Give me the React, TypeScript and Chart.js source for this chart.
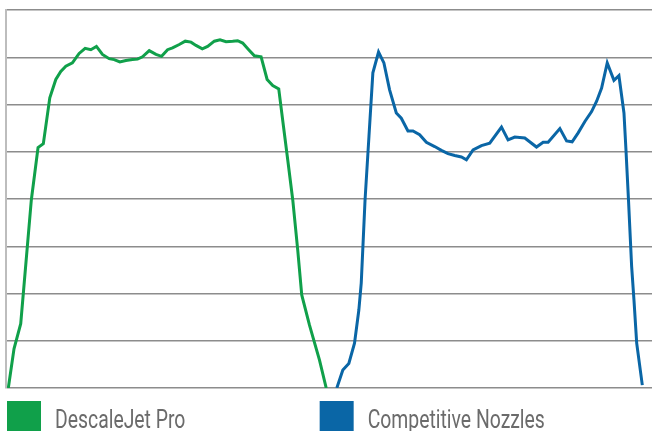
import React, { useEffect, useRef } from "react";
import { Chart, registerables } from "chart.js";

Chart.register(...registerables);

// Horizontal position (0-100) and response value (0-80)
const descaleX = [0.36, 1.24, 2.28, 3.92, 4.96, 5.78, 6.78, 7.71, 8.48, 9.26, 10.28, 11.32, 12.25, 13.13, 14.0, 14.93, 15.97, 16.74, 17.63, 18.56, 19.58, 20.36, 21.13, 22.17, 23.21, 24.08, 25.01, 25.78, 26.82, 27.75, 28.64, 29.41, 30.39, 31.21, 32.25, 33.13, 34.06, 35.09, 35.86, 36.64, 37.57, 38.45, 39.49, 40.42, 41.29, 42.22, 42.95, 43.61, 44.39, 45.16, 45.78, 46.98, 48.53, 49.57];
const descaleY = [0, 8.3, 13.6, 39.8, 50.9, 51.7, 61.4, 65.3, 67.0, 68.1, 68.8, 70.8, 71.9, 71.6, 72.3, 70.6, 69.7, 69.5, 69.0, 69.3, 69.5, 69.6, 70.1, 71.4, 70.6, 70.2, 71.6, 72.0, 72.7, 73.4, 73.2, 72.5, 71.8, 72.3, 73.4, 73.7, 73.3, 73.4, 73.5, 73.0, 71.6, 70.3, 70.1, 65.3, 64.0, 63.3, 55.4, 48.3, 39.8, 29.2, 19.7, 13.3, 5.9, 0];

const competitorX = [51.21, 52.14, 53.07, 53.95, 54.62, 54.99, 55.58, 56.79, 57.67, 58.5, 59.38, 60.42, 61.19, 62.22, 63.0, 64.03, 65.07, 66.36, 67.4, 68.42, 69.46, 70.5, 71.27, 72.3, 73.6, 74.88, 76.7, 77.72, 78.76, 80.31, 82.12, 83.15, 83.92, 85.74, 86.78, 87.64, 88.57, 89.61, 90.65, 91.43, 92.2, 93.07, 94.11, 94.88, 95.66, 95.97, 96.36, 96.85, 97.21, 97.63, 98.5];
const competitorY = [0, 3.8, 5.2, 9.5, 16.5, 22.2, 39.8, 66.7, 71.1, 68.8, 63.1, 58.2, 57.1, 54.4, 54.4, 53.6, 52.0, 51.1, 50.3, 49.6, 49.2, 48.9, 48.3, 50.4, 51.3, 51.8, 55.2, 52.5, 53.1, 52.9, 51.0, 52.0, 52.0, 54.9, 52.3, 52.1, 54.0, 56.4, 58.5, 60.7, 63.5, 68.8, 65.1, 66.1, 58.2, 50.4, 39.8, 25.7, 18.6, 9.5, 0.6];

const seriesLabels = ["DescaleJet Pro", "Competitive Nozzles"];
const seriesColors = ["#10a04a", "#0a66a6"];

const toPoints = (xs: number[], ys: number[]) => xs.map((x, i) => ({ x, y: ys[i] }));

const bottomLegend = {
  id: "bottomLegend",
  afterDraw(chart: any) {
    const { ctx, chartArea } = chart;
    const starts = [chartArea.left + 1, chartArea.left + 1 + chartArea.width * 0.484];
    ctx.save();
    chart.data.datasets.forEach((ds: any, i: number) => {
      const bx = starts[i];
      const by = chartArea.bottom + 13;
      ctx.fillStyle = ds.borderColor;
      ctx.fillRect(bx, by, 34, 31);
      ctx.save();
      ctx.translate(bx + 48, chartArea.bottom + 40);
      ctx.scale(0.775, 1);
      ctx.fillStyle = "#6b6b6b";
      ctx.font = "400 25px Roboto, 'Liberation Sans', sans-serif";
      ctx.textBaseline = "alphabetic";
      ctx.textAlign = "left";
      ctx.fillText(ds.label, 0, 0);
      ctx.restore();
    });
    ctx.restore();
  },
};

export default function App() {
  const ref = useRef<HTMLCanvasElement | null>(null);
  useEffect(() => {
    if (!ref.current) return;
    const chart = new Chart(ref.current, {
      type: "line",
      data: {
        datasets: [
          {
            label: seriesLabels[0],
            data: toPoints(descaleX, descaleY),
            borderColor: seriesColors[0],
            backgroundColor: seriesColors[0],
            borderWidth: 3,
            pointRadius: 0,
            tension: 0,
            fill: false,
          },
          {
            label: seriesLabels[1],
            data: toPoints(competitorX, competitorY),
            borderColor: seriesColors[1],
            backgroundColor: seriesColors[1],
            borderWidth: 3,
            pointRadius: 0,
            tension: 0,
            fill: false,
          },
        ],
      },
      options: {
        responsive: false,
        maintainAspectRatio: false,
        animation: false,
        layout: { padding: { left: 6, top: 10, right: 0, bottom: 43 } },
        plugins: {
          legend: { display: false },
          tooltip: { enabled: false },
        },
        scales: {
          x: { type: "linear", min: 0, max: 100, display: false },
          y: {
            min: 0,
            max: 80,
            ticks: { display: false, stepSize: 10 },
            grid: { color: "#8c8c8c", lineWidth: 1.5, drawTicks: false, tickLength: 0 },
            border: { display: true, color: "#bdbdbd", width: 2 },
          },
        },
      },
      plugins: [bottomLegend],
    });
    return () => chart.destroy();
  }, []);
  return (
    <div style={{ position: "absolute", left: 0, top: 0, width: 652, height: 431, background: "#fff" }}>
      <canvas ref={ref} width={652} height={431} />
    </div>
  );
}
